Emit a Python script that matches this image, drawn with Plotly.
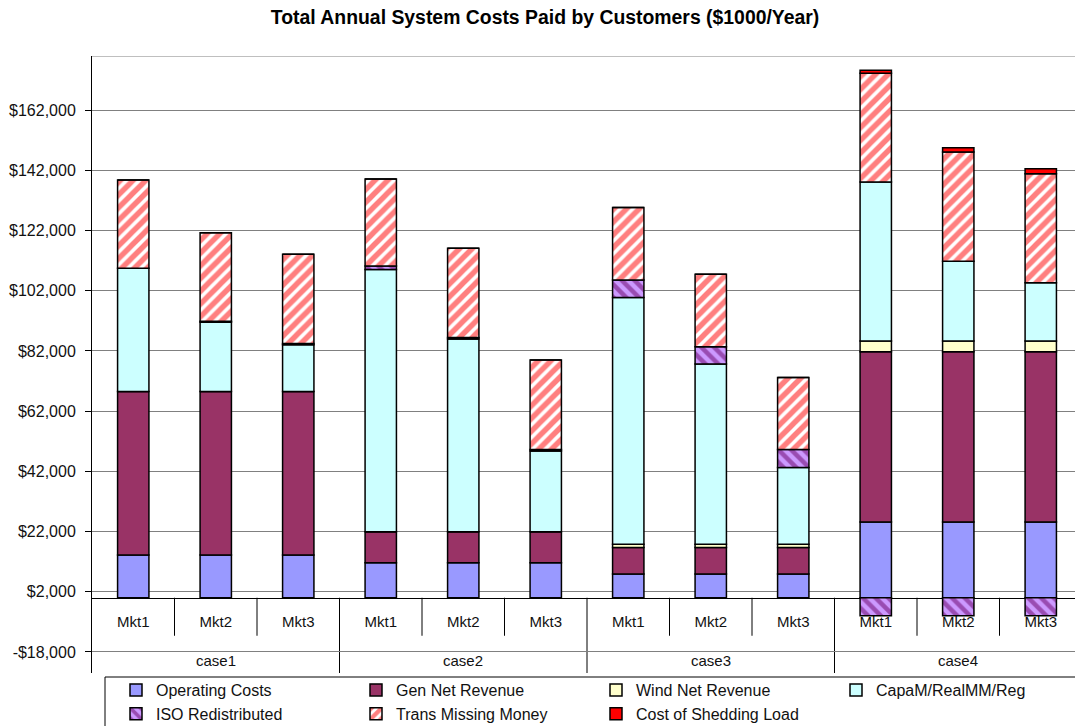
import plotly.graph_objects as go

# Categories: four cases, three markets each
CASES = ["case1", "case2", "case3", "case4"]
MARKETS = ["Mkt1", "Mkt2", "Mkt3"]

# Annual cost components ($1000/Year), ordered case1 Mkt1..Mkt3, case2 ..., case4
operating_costs   = [14200, 14200, 14200, 11600, 11600, 11600, 7900, 7900, 7900, 25200, 25200, 25200]
gen_net_revenue   = [54300, 54300, 54300, 10300, 10300, 10300, 8800, 8800, 8800, 56500, 56500, 56500]
wind_net_revenue  = [0, 0, 0, 0, 0, 0, 1100, 1100, 1100, 3600, 3600, 3600]
capam_realmm_reg  = [41000, 23000, 15600, 87200, 64100, 26900, 82000, 59900, 25500, 52800, 26500, 19400]
iso_redistributed = [0, 400, 400, 1100, 500, 500, 5800, 5700, 6000, -6000, -6000, -6000]
trans_missing     = [29300, 29400, 29600, 28900, 29600, 29700, 24100, 24100, 23900, 36200, 36300, 36200]
shedding_load     = [0, 0, 0, 0, 0, 0, 0, 0, 0, 1000, 1400, 1600]

# Value axis
Y_MIN, Y_MAX = -25000, 180000
Y_TICKS = [-18000 + 20000 * k for k in range(10)]


def money(v):
    return f"-${abs(v):,}" if v < 0 else f"${v:,}"


Y_TICK_TEXT = [money(v) for v in Y_TICKS]

# one slot per (case, market) pair
n_mkt = len(MARKETS)
slots = list(range(len(CASES) * n_mkt))
slot_labels = [m for _ in CASES for m in MARKETS]
case_centers = [i * n_mkt + (n_mkt - 1) / 2 for i in range(len(CASES))]

FONT = "Liberation Sans, Arial, sans-serif"
EDGE = dict(color="black", width=1.5)

series = [
    ("Operating Costs", operating_costs, "#9999FF", None),
    ("Gen Net Revenue", gen_net_revenue, "#993366", None),
    ("Wind Net Revenue", wind_net_revenue, "#FFFFCC", None),
    ("CapaM/RealMM/Reg", capam_realmm_reg, "#CCFFFF", None),
    ("ISO Redistributed", iso_redistributed, "#CC99FF",
     dict(shape="\\", fgcolor="#660066", bgcolor="#CC99FF", size=9, solidity=0.5)),
    ("Trans Missing Money", trans_missing, "#FFFFFF",
     dict(shape="/", fgcolor="#FF0000", bgcolor="#FFFFFF", size=9, solidity=0.6)),
    ("Cost of Shedding Load", shedding_load, "#FF0000", None),
]

fig = go.Figure()
for name, vals, color, pattern in series:
    marker = dict(color=color, line=EDGE)
    if pattern:
        marker["pattern"] = pattern
    fig.add_trace(go.Bar(name=name, x=slots, y=vals, marker=marker,
                         customdata=[[c, m] for c in CASES for m in MARKETS],
                         hovertemplate="%{customdata[0]} %{customdata[1]}<br>%{y:$,}<extra>"
                                       + name + "</extra>"))

# category axis sits on the zero line
zero_pos = (0 - Y_MIN) / (Y_MAX - Y_MIN)

# category table: short separators between markets, full-height ones between cases
shapes = []
for i in range(1, len(slots)):
    b = i - 0.5
    if i % n_mkt == 0:
        shapes.append(dict(type="line", xref="x", yref="y", x0=b, x1=b, y0=0, y1=Y_MIN,
                           line=dict(color="black", width=1), layer="below"))
    else:
        shapes.append(dict(type="line", xref="x", yref="y", ysizemode="pixel", yanchor=0,
                           x0=b, x1=b, y0=0, y1=-38,
                           line=dict(color="black", width=1), layer="below"))
# top border of the plot area
shapes.append(dict(type="line", xref="paper", yref="y", x0=0, x1=1, y0=Y_MAX, y1=Y_MAX,
                   line=dict(color="#808080", width=1)))
# legend frame
shapes.append(dict(type="rect", xref="paper", yref="paper",
                   x0=13 / 983, x1=1.01, y0=-60 / 617, y1=-4 / 617,
                   line=dict(color="black", width=1), fillcolor="rgba(0,0,0,0)"))

annotations = [dict(text=c, x=cx, y=0, xref="x", yref="y", yshift=-63,
                    showarrow=False, yanchor="middle",
                    font=dict(family=FONT, size=15, color="#111"))
               for c, cx in zip(CASES, case_centers)]

fig.update_layout(
    width=1075, height=726,
    margin=dict(l=92, r=0, t=56, b=53, autoexpand=False),
    paper_bgcolor="white", plot_bgcolor="white",
    barmode="relative", bargap=0.62,
    font=dict(family=FONT, size=15, color="#111"),
    title=dict(text="<b>Total Annual System Costs Paid by Customers ($1000/Year)</b>",
               font=dict(family=FONT, size=19.4, color="black"),
               x=0.507, xref="container", xanchor="center",
               y=1 - 17 / 726, yref="container", yanchor="middle"),
    xaxis=dict(type="linear", anchor="free", position=zero_pos,
               range=[-0.5, 11.415], tickmode="array", tickvals=slots, ticktext=slot_labels,
               showline=True, linecolor="black", linewidth=1, ticks="",
               ticklabelstandoff=10, zeroline=False, showgrid=False,
               tickfont=dict(family=FONT, size=15, color="#111"),
               layer="below traces"),
    yaxis=dict(range=[Y_MIN, Y_MAX], tickvals=Y_TICKS, ticktext=Y_TICK_TEXT,
               showline=True, linecolor="black", linewidth=1,
               ticks="outside", ticklen=6, tickcolor="black",
               ticklabelstandoff=6,
               showgrid=True, gridcolor="#808080", gridwidth=1, zeroline=False,
               tickfont=dict(family=FONT, size=16, color="#111")),
    legend=dict(orientation="h", traceorder="normal",
                x=116 / 1075, xref="container", xanchor="left",
                y=1 - 673 / 726, yref="container", yanchor="top",
                borderwidth=0, bgcolor="rgba(0,0,0,0)",
                entrywidth=195, entrywidthmode="pixels",
                font=dict(family=FONT, size=16, color="#111")),
    shapes=shapes,
    annotations=annotations,
)

fig.write_html("out.html")
